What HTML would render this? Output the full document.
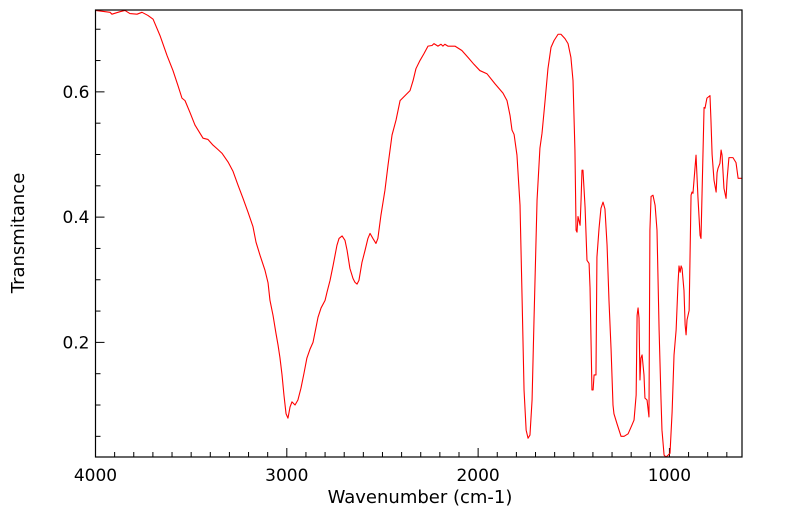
<!DOCTYPE html>
<html><head><meta charset="utf-8">
<style>
html,body{margin:0;padding:0;background:#fff;}
svg{display:block;font-family:"DejaVu Sans","Liberation Sans",sans-serif;}
</style></head>
<body>
<svg id="chart" width="799" height="516" viewBox="0 0 799 516" xmlns="http://www.w3.org/2000/svg">
<g id="axes"></g>
<path id="series" fill="none" stroke="#ff0000" stroke-width="1.1" stroke-linejoin="round"></path>
<rect x="95.5" y="10" width="646.5" height="447" fill="none" stroke="#000" stroke-width="1.2"/>
<text x="420" y="503" font-size="18" text-anchor="middle">Wavenumber (cm-1)</text>
<text x="24" y="233" font-size="18" text-anchor="middle" transform="rotate(-90 24 233)">Transmitance</text>
</svg>
<script>
const wavenumbers = [4000,3924,3914,3872,3846,3820,3783,3757,3726,3699,3663,3626,3595,3569,3548,3532,3506,3480,3454,3438,3412,3386,3360,3339,3307,3281,3255,3229,3203,3177,3161,3140,3114,3098,3088,3072,3057,3046,3036,3025,3015,3004,2994,2983,2973,2957,2942,2926,2910,2895,2879,2863,2848,2837,2821,2800,2790,2774,2758,2738,2727,2711,2696,2685,2670,2654,2644,2633,2623,2607,2591,2576,2565,2550,2534,2524,2508,2487,2471,2450,2429,2408,2382,2356,2340,2325,2304,2283,2262,2241,2231,2210,2194,2184,2174,2158,2121,2085,2053,2022,1991,1954,1912,1870,1849,1833,1823,1812,1797,1781,1770,1760,1749,1739,1729,1718,1708,1692,1677,1666,1650,1635,1619,1603,1582,1567,1546,1530,1515,1504,1494,1488,1483,1478,1467,1462,1457,1452,1441,1431,1420,1415,1405,1399,1394,1384,1379,1368,1358,1347,1337,1326,1316,1305,1295,1290,1274,1253,1237,1216,1196,1185,1174,1169,1164,1159,1154,1149,1143,1133,1128,1117,1107,1102,1096,1086,1075,1065,1054,1044,1039,1028,1018,1007,997,986,976,965,955,950,944,939,934,924,918,913,908,897,887,882,877,861,851,840,835,819,814,804,788,783,777,767,756,751,746,736,730,725,715,704,699,689,668,652,641,620];
const transmittance = [0.730,0.727,0.724,0.728,0.730,0.725,0.724,0.727,0.722,0.716,0.690,0.658,0.634,0.610,0.590,0.586,0.567,0.547,0.534,0.526,0.524,0.515,0.508,0.502,0.488,0.473,0.451,0.430,0.408,0.385,0.360,0.339,0.315,0.295,0.267,0.243,0.215,0.196,0.176,0.148,0.116,0.086,0.079,0.097,0.105,0.100,0.108,0.127,0.151,0.175,0.189,0.200,0.223,0.240,0.255,0.267,0.280,0.299,0.323,0.355,0.366,0.370,0.363,0.347,0.318,0.302,0.296,0.293,0.299,0.328,0.347,0.366,0.374,0.366,0.358,0.366,0.403,0.443,0.483,0.531,0.555,0.586,0.594,0.602,0.618,0.637,0.650,0.661,0.673,0.674,0.677,0.673,0.676,0.673,0.676,0.673,0.673,0.666,0.655,0.644,0.634,0.629,0.613,0.598,0.586,0.562,0.539,0.532,0.499,0.419,0.267,0.124,0.060,0.047,0.052,0.108,0.235,0.427,0.510,0.534,0.586,0.637,0.671,0.682,0.692,0.692,0.685,0.677,0.655,0.618,0.507,0.379,0.376,0.401,0.387,0.427,0.475,0.475,0.416,0.331,0.326,0.287,0.124,0.124,0.148,0.148,0.336,0.382,0.414,0.424,0.413,0.355,0.267,0.188,0.100,0.086,0.070,0.050,0.050,0.054,0.068,0.076,0.116,0.243,0.255,0.239,0.140,0.175,0.180,0.148,0.111,0.108,0.081,0.379,0.433,0.435,0.419,0.379,0.220,0.108,0.060,0.020,0.017,0.020,0.023,0.089,0.180,0.220,0.295,0.322,0.312,0.322,0.318,0.283,0.228,0.212,0.236,0.251,0.435,0.440,0.438,0.499,0.432,0.371,0.366,0.575,0.574,0.590,0.594,0.555,0.500,0.459,0.440,0.471,0.478,0.486,0.507,0.499,0.446,0.430,0.459,0.495,0.495,0.487,0.462,0.462];
const xTickLabels = [4000,3000,2000,1000];
const yTickLabels = [0.2,0.4,0.6];

const L=95.5,R=742,T=10,B=457;
const xMax=4000,xMin=620.7,yMin=0.017,yMax=0.7307;
function xs(v){return L+(xMax-v)/(xMax-xMin)*(R-L);}
function ys(v){return B-(v-yMin)/(yMax-yMin)*(B-T);}
const NS="http://www.w3.org/2000/svg";
const axes=document.getElementById('axes');
function line(x1,y1,x2,y2,name){
  const l=document.createElementNS(NS,'line');
  l.setAttribute('x1',x1);l.setAttribute('y1',y1);l.setAttribute('x2',x2);l.setAttribute('y2',y2);
  l.setAttribute('stroke','#000');l.setAttribute('stroke-width','1');
  
  
  axes.appendChild(l);
}
for(let w=4000;w>=700;w-=100){
  const x=xs(w);
  const major=(w%1000===0);
  line(x,B,x,B-(major?9:5),major?'x-major-tick':'x-minor-tick');
}
for(let k=1;k<=14;k++){
  const v=k*0.05;
  const y=ys(v);
  if(y<T)continue;
  const major=(k%4===0);
  line(L,y,L+(major?9:5),y,major?'y-major-tick':'y-minor-tick');
}
xTickLabels.forEach(v=>{
  const t=document.createElementNS(NS,'text');
  t.setAttribute('x',xs(v));t.setAttribute('y',B+24);
  t.setAttribute('font-size','17');t.setAttribute('text-anchor','middle');
  t.textContent=String(v);
  
  
  axes.appendChild(t);
});
yTickLabels.forEach(v=>{
  const t=document.createElementNS(NS,'text');
  t.setAttribute('x',L-6);t.setAttribute('y',ys(v)+6);
  t.setAttribute('font-size','17');t.setAttribute('text-anchor','end');
  t.textContent=v.toFixed(1);
  
  
  axes.appendChild(t);
});
let d='';
wavenumbers.forEach((w,i)=>{d+=(i?'L':'M')+xs(w).toFixed(2)+','+ys(transmittance[i]).toFixed(2);});
document.getElementById('series').setAttribute('d',d);
</script>
</body></html>
